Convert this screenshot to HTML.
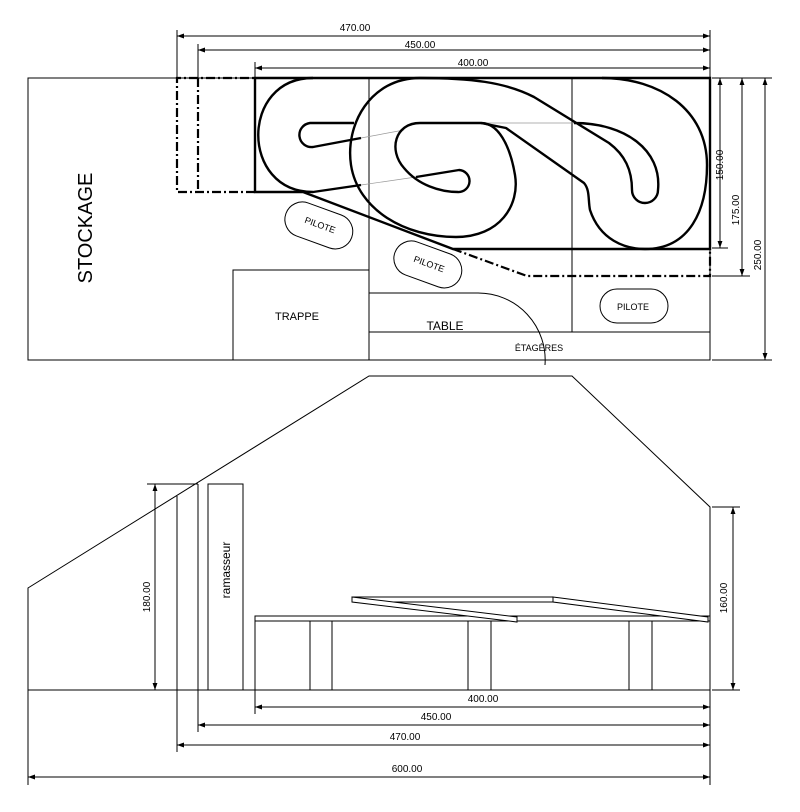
<!DOCTYPE html>
<html><head><meta charset="utf-8"><style>
html,body{margin:0;padding:0;background:#fff}
svg{display:block}
text{font-family:"Liberation Sans",sans-serif;fill:#000}
</style></head><body>
<svg width="800" height="812" viewBox="0 0 800 812" xmlns="http://www.w3.org/2000/svg">
<defs>
<marker id="a" viewBox="0 0 10 10" refX="10" refY="5" markerWidth="7" markerHeight="7" orient="auto-start-reverse"><path d="M0,1.5 L10,5 L0,8.5z" fill="#000"/></marker>
</defs>
<g fill="none" stroke="#000" stroke-width="1">
<rect x="28" y="78" width="682" height="282"/>
<line x1="369" y1="78" x2="369" y2="360"/>
<line x1="572" y1="78" x2="572" y2="332"/>
<line x1="369" y1="332" x2="710" y2="332"/>
<rect x="233" y="270" width="136" height="90"/>
<path d="M369,293 L478,293 A67,67 0 0 1 545,365"/>
<g stroke-width="2.2" stroke-dasharray="9,3,2,3">
<path d="M255,192 L177,192 L177,78 L255,78"/>
<line x1="198" y1="78" x2="198" y2="192"/>
<path d="M453,249 L527,276 L710,276 L710,249"/>
</g>
<g stroke-width="2.4">
<path d="M303,192 L255,192 L255,78 L710,78 L710,249 L453,249 L303,192"/>
</g>
<g stroke="#999" stroke-width="0.7">
<line x1="361" y1="138" x2="404" y2="130"/>
<line x1="361" y1="185" x2="416" y2="177"/>
<line x1="481" y1="123" x2="574" y2="123"/>
</g>
<g stroke-width="2.4" stroke-linejoin="round">
<path d="M361,185 L313,192 C240,192 240,78 313,78"/>
<path d="M354,123 L310,123 A12,12 0 0 0 313,147 L361,138"/>
<path d="M420,78 C370,78 345,125 351,165 C358,210 405,237 456,237 C500,237 520,205 515,175 C510,145 498,123 481,123 L420,123 C395,123 388,150 404,168 C418,185 440,192 458,192 A11,11 0 0 0 459,170 L416,177"/>
<path d="M420,78 C470,78 505,82 534,97 L609,143 C625,155 632,170 632,190 A13,13 0 0 0 658,190 C662,150 625,123 574,123"/>
<path d="M481,123 L506,128 L584,183 C590,190 588,200 590,210 C600,240 625,249 645,249 C690,249 707,210 707,165 C707,110 660,78 602,78"/>
</g>
<rect x="284" y="208" width="70" height="35" rx="17.5" transform="rotate(20 319 225)"/>
<rect x="393" y="247" width="70" height="35" rx="17.5" transform="rotate(20 428 264)"/>
<rect x="600" y="289" width="68" height="34" rx="17"/>
<line x1="177" y1="30" x2="177" y2="78"/>
<line x1="198" y1="44" x2="198" y2="78"/>
<line x1="255" y1="62" x2="255" y2="78"/>
<line x1="710" y1="30" x2="710" y2="78"/>
<line x1="177" y1="36" x2="710" y2="36" marker-start="url(#a)" marker-end="url(#a)"/>
<line x1="198" y1="50" x2="710" y2="50" marker-start="url(#a)" marker-end="url(#a)"/>
<line x1="255" y1="68" x2="710" y2="68" marker-start="url(#a)" marker-end="url(#a)"/>
<line x1="712" y1="78" x2="772" y2="78"/>
<line x1="712" y1="248" x2="728" y2="248"/>
<line x1="712" y1="276" x2="750" y2="276"/>
<line x1="712" y1="360" x2="772" y2="360"/>
<line x1="720" y1="78" x2="720" y2="248" marker-start="url(#a)" marker-end="url(#a)"/>
<line x1="742" y1="78" x2="742" y2="276" marker-start="url(#a)" marker-end="url(#a)"/>
<line x1="765" y1="78" x2="765" y2="360" marker-start="url(#a)" marker-end="url(#a)"/>
<path d="M28,690 L28,588 L369,376 L572,376 L710,507 L710,690"/>
<line x1="28" y1="690" x2="710" y2="690"/>
<line x1="177" y1="496" x2="177" y2="690"/>
<line x1="198" y1="484" x2="198" y2="690"/>
<rect x="208" y="484" width="35" height="206"/>
<line x1="147" y1="484" x2="198" y2="484"/>
<line x1="155" y1="484" x2="155" y2="690" marker-start="url(#a)" marker-end="url(#a)"/>
<rect x="255" y="616" width="455" height="5"/>
<line x1="255" y1="621" x2="255" y2="690"/>
<rect x="310" y="621" width="22" height="69"/>
<rect x="468" y="621" width="23" height="69"/>
<rect x="629" y="621" width="23" height="69"/>
<rect x="352" y="597" width="201" height="5"/>
<path d="M352,597 L517,617 L517,622 L352,602z" fill="#fff"/>
<path d="M553,597 L708,617 L708,622 L553,602z" fill="#fff"/>
<line x1="712" y1="507" x2="740" y2="507"/>
<line x1="712" y1="690" x2="740" y2="690"/>
<line x1="733" y1="507" x2="733" y2="690" marker-start="url(#a)" marker-end="url(#a)"/>
<line x1="255" y1="690" x2="255" y2="714"/>
<line x1="198" y1="690" x2="198" y2="732"/>
<line x1="177" y1="690" x2="177" y2="752"/>
<line x1="28" y1="690" x2="28" y2="785"/>
<line x1="710" y1="690" x2="710" y2="785"/>
<line x1="255" y1="707" x2="710" y2="707" marker-start="url(#a)" marker-end="url(#a)"/>
<line x1="198" y1="725" x2="710" y2="725" marker-start="url(#a)" marker-end="url(#a)"/>
<line x1="177" y1="745" x2="710" y2="745" marker-start="url(#a)" marker-end="url(#a)"/>
<line x1="28" y1="777" x2="710" y2="777" marker-start="url(#a)" marker-end="url(#a)"/>
</g>
<g font-size="10" text-anchor="middle">
<text x="355" y="31">470.00</text>
<text x="420" y="48">450.00</text>
<text x="473" y="66">400.00</text>
<text transform="translate(723,165) rotate(-90)">150.00</text>
<text transform="translate(739,210) rotate(-90)">175.00</text>
<text transform="translate(761,255) rotate(-90)">250.00</text>
<text transform="translate(150,597) rotate(-90)">180.00</text>
<text transform="translate(727,598) rotate(-90)">160.00</text>
<text x="483" y="702">400.00</text>
<text x="436" y="720">450.00</text>
<text x="405" y="740">470.00</text>
<text x="407" y="772">600.00</text>
<text x="297" y="320" font-size="11">TRAPPE</text>
<text x="445" y="330" font-size="12">TABLE</text>
<text x="539" y="351" font-size="9">ÉTAGÈRES</text>
<text x="633" y="310" font-size="9">PILOTE</text>
<text font-size="9" transform="translate(319,228) rotate(20)">PILOTE</text>
<text font-size="9" transform="translate(428,267) rotate(20)">PILOTE</text>
<text font-size="20" transform="translate(92,228) rotate(-90)">STOCKAGE</text>
<text font-size="12" transform="translate(230,570) rotate(-90)">ramasseur</text>
</g>
</svg>
</body></html>
